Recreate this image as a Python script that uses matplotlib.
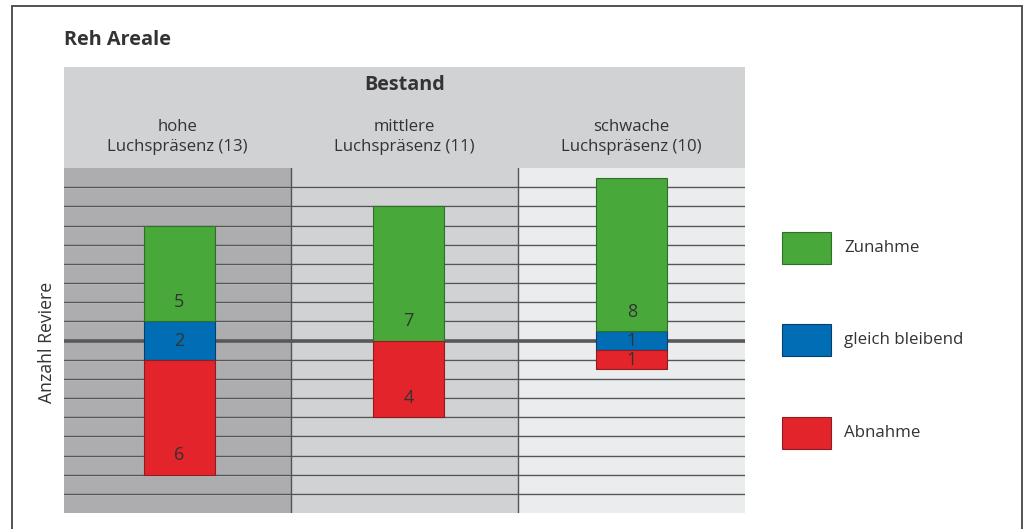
import matplotlib
matplotlib.use("Agg")
import matplotlib.pyplot as plt
from matplotlib.patches import Rectangle

plt.rcParams['font.family'] = ['Open Sans', 'DejaVu Sans']

# Data
groups = ["hohe\nLuchspräsenz (13)", "mittlere\nLuchspräsenz (11)", "schwache\nLuchspräsenz (10)"]
zunahme = [5, 7, 8]
gleich = [2, 0, 1]
abnahme = [6, 4, 1]
series_names = ["Zunahme", "gleich bleibend", "Abnahme"]
y_ticks = list(range(-8, 9))

colors = {"Zunahme": "#48a93a", "gleich bleibend": "#006db4", "Abnahme": "#e4242b"}
edges = {"Zunahme": "#2f6f2a", "gleich bleibend": "#0a3f6b", "Abnahme": "#8e1c20"}
panel_bg = ["#adadb0", "#d1d2d4", "#ebecee"]
header_bg = "#d1d2d4"
text_col = "#333333"
line_col = "#555555"

W, H = 1026, 529
fig = plt.figure(figsize=(W / 100, H / 100), dpi=100)

def fx(px):
    return px / W

def fy(py):
    return 1 - py / H

# outer frame
fig.patches.append(Rectangle((fx(11.5), fy(560)), fx(1022) - fx(11.5), fy(6) - fy(560),
                             transform=fig.transFigure, fill=False, edgecolor="#444444",
                             linewidth=1.3, zorder=0))

left, right, top, bottom = 64, 745, 168, 513
ax = fig.add_axes([fx(left), fy(bottom), fx(right) - fx(left), fy(top) - fy(bottom)])
ax.set_xlim(0, 3)
ax.set_ylim(-9, 9)
for s in ax.spines.values():
    s.set_visible(False)
ax.set_xticks([])
ax.set_yticks([])

# panel backgrounds
for i, c in enumerate(panel_bg):
    ax.axvspan(i, i + 1, color=c, zorder=0, linewidth=0)

# grid lines with light shadow
for t in y_ticks:
    if t == 0:
        continue
    ax.axhline(t - 0.055, color="white", alpha=0.35, linewidth=0.8, zorder=1)
    ax.axhline(t, color=line_col, linewidth=1.0, zorder=1.1)
ax.axhline(0, color="#58585a", linewidth=2.6, zorder=1.2)
for xv in (1, 2):
    ax.axvline(xv, color=line_col, linewidth=1.0, zorder=1.3)

# stacked bars: "gleich bleibend" centred on zero
bar_x = [0.507, 1.518, 2.502]
bar_w = 0.313
for i in range(len(groups)):
    xc = bar_x[i]
    g = gleich[i]
    base_up = g / 2
    base_dn = -g / 2
    if g:
        ax.bar(xc, g, bottom=base_dn, width=bar_w, color=colors["gleich bleibend"],
               edgecolor=edges["gleich bleibend"], linewidth=0.8, zorder=3)
        ax.text(xc, 0, str(g), ha="center", va="center", fontsize=13, color=text_col, zorder=5)
    z = zunahme[i]
    ax.bar(xc, z, bottom=base_up, width=bar_w, color=colors["Zunahme"],
           edgecolor=edges["Zunahme"], linewidth=0.8, zorder=3)
    ax.text(xc, base_up + min(1, z / 2), str(z), ha="center", va="center",
            fontsize=13, color=text_col, zorder=5)
    a = abnahme[i]
    ax.bar(xc, -a, bottom=base_dn, width=bar_w, color=colors["Abnahme"],
           edgecolor=edges["Abnahme"], linewidth=0.8, zorder=3)
    ax.text(xc, base_dn - a + min(1, a / 2), str(a), ha="center", va="center",
            fontsize=13, color=text_col, zorder=5)

fig.text(fx(47), fy(342), "Anzahl Reviere", rotation=90, ha="center", va="center",
         fontsize=12.7, color=text_col)

# header block
fig.patches.append(Rectangle((fx(left), fy(top)), fx(right) - fx(left), fy(67) - fy(top),
                             transform=fig.transFigure, facecolor=header_bg,
                             edgecolor="none", zorder=0))
fig.text(fx((left + right) / 2), fy(85), "Bestand", ha="center", va="center",
         fontsize=14.2, fontweight="bold", color=text_col)
for i, g in enumerate(groups):
    xc = left + (i + 0.5) * (right - left) / 3
    fig.text(fx(xc), fy(137), g, ha="center", va="center", fontsize=12.1,
             color=text_col, linespacing=1.4)

fig.text(fx(64), fy(40), "Reh Areale", ha="left", va="center", fontsize=14.3,
         fontweight="bold", color=text_col)

# legend
leg_y = [248, 340, 433]
for name, yc in zip(series_names, leg_y):
    fig.patches.append(Rectangle((fx(782), fy(yc + 16)), fx(831) - fx(782), fy(yc - 16) - fy(yc + 16),
                                 transform=fig.transFigure, facecolor=colors[name],
                                 edgecolor=edges[name], linewidth=0.8))
    fig.text(fx(844), fy(yc), name, ha="left", va="center", fontsize=12.2, color=text_col)

fig.savefig("out.png", dpi=100)
